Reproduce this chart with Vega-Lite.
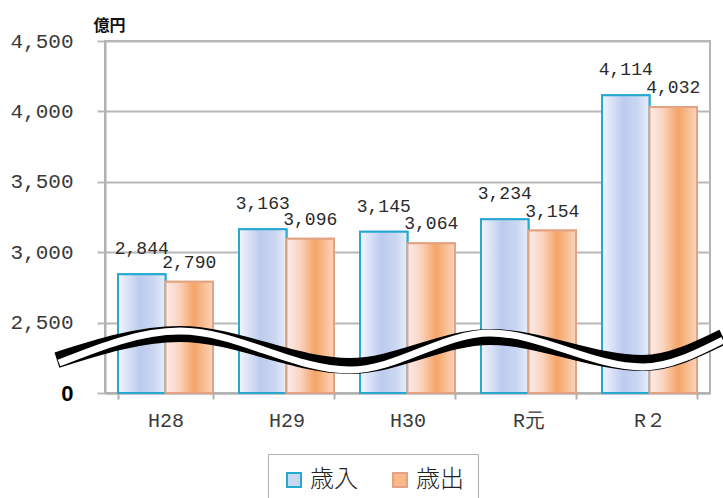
{
  "$schema": "https://vega.github.io/schema/vega-lite/v6.json",
  "width": 605,
  "height": 352,
  "autosize": "none",
  "padding": {"left": 105, "top": 41, "right": 13, "bottom": 105},
  "background": "white",
  "datasets": {
    "bars": [
      {"year": "H28", "series": "歳入", "value": 2844},
      {"year": "H28", "series": "歳出", "value": 2790},
      {"year": "H29", "series": "歳入", "value": 3163},
      {"year": "H29", "series": "歳出", "value": 3096},
      {"year": "H30", "series": "歳入", "value": 3145},
      {"year": "H30", "series": "歳出", "value": 3064},
      {"year": "R元", "series": "歳入", "value": 3234},
      {"year": "R元", "series": "歳出", "value": 3154},
      {"year": "R２", "series": "歳入", "value": 4114},
      {"year": "R２", "series": "歳出", "value": 4032}
    ],
    "wave": [
      {"part": "black", "wx": -0.397, "wy": 2234},
      {"part": "black", "wx": 0.62, "wy": 2419},
      {"part": "black", "wx": 2.025, "wy": 2192},
      {"part": "black", "wx": 3.182, "wy": 2398},
      {"part": "black", "wx": 4.446, "wy": 2213},
      {"part": "black", "wx": 5.107, "wy": 2398},
      {"part": "white", "wx": -0.38, "wy": 2213},
      {"part": "white", "wx": 0.62, "wy": 2440},
      {"part": "white", "wx": 2.025, "wy": 2163},
      {"part": "white", "wx": 3.182, "wy": 2426},
      {"part": "white", "wx": 4.446, "wy": 2185},
      {"part": "white", "wx": 5.107, "wy": 2376}
    ]
  },
  "config": {
    "view": {"stroke": "#b4b4b4", "strokeWidth": 2},
    "legend": {
      "orient": "none",
      "legendX": 163,
      "legendY": 413,
      "direction": "horizontal",
      "labelFont": "Noto Sans CJK JP",
      "labelFontSize": 24,
      "labelFontWeight": 300,
      "labelColor": "#222222",
      "symbolType": "square",
      "symbolSize": 196,
      "symbolStrokeWidth": 2,
      "symbolOpacity": 1,
      "padding": 14,
      "strokeColor": "#b0b0b0",
      "fillColor": "white",
      "columnPadding": 30,
      "labelOffset": 4
    }
  },
  "layer": [
    {
      "data": {"name": "bars"},
      "encoding": {
        "x": {
          "field": "year",
          "type": "nominal",
          "sort": ["H28", "H29", "H30", "R元", "R２"],
          "scale": {"paddingInner": 0.215, "paddingOuter": 0.1075},
          "axis": {
            "title": null,
            "tickBand": "extent",
            "tickSize": 6,
            "tickWidth": 2,
            "tickColor": "#b0b0b0",
            "domainColor": "#b0b0b0",
            "domainWidth": 2,
            "labelFont": "Liberation Mono",
            "labelFontSize": 20,
            "labelColor": "#3a3a3a",
            "labelPadding": 11,
            "labelAngle": 0,
            "grid": false
          }
        },
        "xOffset": {
          "field": "series",
          "type": "nominal",
          "sort": ["歳入", "歳出"],
          "scale": {"paddingInner": 0, "paddingOuter": 0}
        },
        "y": {
          "field": "value",
          "type": "quantitative",
          "scale": {"domain": [2000, 4500], "nice": false, "zero": false},
          "axis": {
            "title": "億円",
            "titleAngle": 0,
            "titleAlign": "left",
            "titleBaseline": "alphabetic",
            "titleX": -12,
            "titleY": -11,
            "titleFont": "Noto Sans CJK JP",
            "titleFontSize": 16,
            "titleFontWeight": "bold",
            "titleColor": "#111111",
            "values": [2000, 2500, 3000, 3500, 4000, 4500],
            "labelExpr": "datum.value === 2000 ? '0' : format(datum.value, ',')",
            "labelFont": {"condition": {"test": "datum.value === 2000", "value": "Liberation Sans"}, "value": "Liberation Mono"},
            "labelFontWeight": {"condition": {"test": "datum.value === 2000", "value": "bold"}, "value": "normal"},
            "labelColor": {"condition": {"test": "datum.value === 2000", "value": "#000000"}, "value": "#3a3a3a"},
            "labelFontSize": {"condition": {"test": "datum.value === 2000", "value": 22}, "value": 21},
            "labelPadding": 24,
            "tickSize": 8,
            "tickWidth": 2,
            "tickColor": "#b8b8b8",
            "domainColor": "#b0b0b0",
            "domainWidth": 2,
            "grid": true,
            "gridColor": "#b8b8b8",
            "gridWidth": 2
          }
        }
      },
      "layer": [
        {
          "mark": {"type": "bar", "strokeWidth": 2},
          "encoding": {
            "y2": {"datum": 2000},
            "fill": {
              "field": "series",
              "type": "nominal",
              "sort": ["歳入", "歳出"],
              "scale": {"domain": ["歳入", "歳出"], "range": ["#c9d7f1", "#f8b98c"]},
              "legend": {"title": null}
            },
            "stroke": {
              "field": "series",
              "type": "nominal",
              "sort": ["歳入", "歳出"],
              "scale": {"domain": ["歳入", "歳出"], "range": ["#27a9cf", "#e2a283"]},
              "legend": {"title": null}
            }
          }
        },
        {
          "mark": {"type": "bar", "strokeWidth": 2},
          "encoding": {
            "y2": {"datum": 2000},
            "fill": {
              "condition": {
                "test": "datum.series === '歳入'",
                "value": {
                  "gradient": "linear", "x1": 0, "y1": 0, "x2": 1, "y2": 0,
                  "stops": [
                    {"offset": 0, "color": "#f3f5fc"},
                    {"offset": 0.45, "color": "#bccbef"},
                    {"offset": 0.75, "color": "#cad7f2"},
                    {"offset": 1, "color": "#e8edf9"}
                  ]
                }
              },
              "value": {
                "gradient": "linear", "x1": 0, "y1": 0, "x2": 1, "y2": 0,
                "stops": [
                  {"offset": 0, "color": "#fdeceb"},
                  {"offset": 0.3, "color": "#fbd2bd"},
                  {"offset": 0.6, "color": "#f5a467"},
                  {"offset": 1, "color": "#fad5bb"}
                ]
              }
            },
            "stroke": {"field": "series", "type": "nominal", "sort": ["歳入", "歳出"]}
          }
        },
        {
          "transform": [{"filter": "datum.series === '歳入'"}],
          "mark": {"type": "text", "font": "Liberation Mono", "fontSize": 18, "color": "#2a2a2a", "baseline": "alphabetic", "dy": -20},
          "encoding": {"text": {"field": "value", "type": "quantitative", "format": ","}}
        },
        {
          "transform": [{"filter": "datum.series === '歳出'"}],
          "mark": {"type": "text", "font": "Liberation Mono", "fontSize": 18, "color": "#2a2a2a", "baseline": "alphabetic", "dy": -14},
          "encoding": {"text": {"field": "value", "type": "quantitative", "format": ","}}
        }
      ]
    },
    {
      "data": {"name": "wave"},
      "encoding": {
        "x": {"field": "wx", "type": "quantitative", "scale": {"domain": [0, 5], "nice": false, "zero": false}, "axis": null},
        "y": {"field": "wy", "type": "quantitative", "title": "億円"}
      },
      "layer": [
        {
          "transform": [{"filter": "datum.part === 'black'"}],
          "mark": {"type": "line", "interpolate": "monotone", "color": "#000000", "strokeWidth": 16, "strokeCap": "butt", "clip": false}
        },
        {
          "transform": [{"filter": "datum.part === 'white'"}],
          "mark": {"type": "line", "interpolate": "monotone", "color": "#ffffff", "strokeWidth": 7, "strokeCap": "butt", "clip": false}
        }
      ]
    }
  ],
  "resolve": {"scale": {"x": "independent"}}
}
